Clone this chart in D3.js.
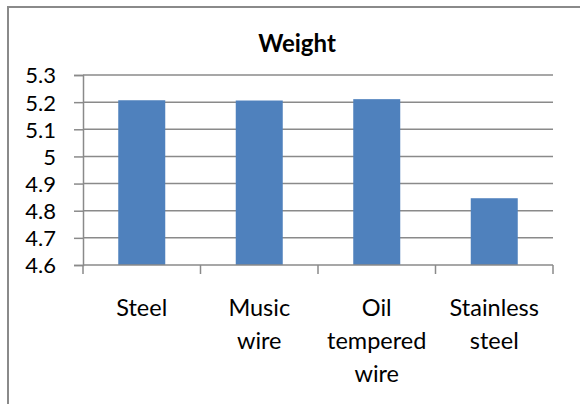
<!DOCTYPE html>
<html>
<head>
<meta charset="utf-8">
<script src="https://cdn.jsdelivr.net/npm/d3@7"></script>
<style>
  html, body { margin: 0; padding: 0; background: #fff; }
  svg { display: block; }
  text { font-family: Lato, "Open Sans", sans-serif; fill: #000; }
</style>
</head>
<body>
<svg id="chart" width="580" height="404"></svg>
<script>
const title = "Weight";
const categories = [["Steel"], ["Music", "wire"], ["Oil", "tempered", "wire"], ["Stainless", "steel"]];
const values = [5.207, 5.206, 5.211, 4.846];
const yTicks = [4.6, 4.7, 4.8, 4.9, 5.0, 5.1, 5.2, 5.3];

const svg = d3.select("#chart");
const pL = 83, pR = 553, pT = 75, pB = 265;

// frame (clipped at right/bottom in the reference)
svg.append("rect").attr("x", 8).attr("y", 7).attr("width", 600).attr("height", 500)
  .attr("fill", "#fff").attr("stroke", "#8a8a8a").attr("stroke-width", 2);

svg.append("text").attr("x", 297).attr("y", 52).attr("text-anchor", "middle")
  .style("font-weight", "bold").style("font-size", "24px").text(title);

const x = d3.scaleBand().domain(d3.range(categories.length)).range([pL, pR]).paddingInner(0.6).paddingOuter(0.3);
const xc = d3.scaleBand().domain(d3.range(categories.length)).range([pL, pR]);
const y = d3.scaleLinear().domain([4.6, 5.3]).range([pB, pT]);

// gridlines
svg.append("g").selectAll("line").data(yTicks.slice(1)).join("line")
  .attr("x1", pL).attr("x2", pR)
  .attr("y1", d => y(d)).attr("y2", d => y(d))
  .attr("stroke", "#8a8a8a").attr("stroke-width", 1.5);

// bars
svg.append("g").selectAll("rect").data(values).join("rect")
  .attr("x", (d, i) => x(i)).attr("width", x.bandwidth())
  .attr("y", d => y(d)).attr("height", d => y(4.6) - y(d))
  .attr("fill", "#4f81bd");

// y axis
const yAxis = d3.axisLeft(y).tickValues(yTicks).tickSize(9).tickPadding(18)
  .tickFormat(d => d3.format("")(+d.toFixed(1)));
const gy = svg.append("g").attr("transform", `translate(${pL},0)`).call(yAxis);
gy.select(".domain").attr("stroke", "#8a8a8a").attr("stroke-width", 1.5);
gy.selectAll(".tick line").attr("stroke", "#8a8a8a").attr("stroke-width", 1.5);
gy.selectAll(".tick text").style("font-size", "22px").style("font-family", "Lato, sans-serif").attr("fill", "#000").attr("dy", "0.36em");

// x axis
const gx = svg.append("g").attr("transform", `translate(0,${pB})`);
gx.append("line").attr("x1", pL).attr("x2", pR).attr("y1", 0).attr("y2", 0)
  .attr("stroke", "#8a8a8a").attr("stroke-width", 1.5);
const xt = d3.range(categories.length + 1).map(i => i < categories.length ? xc(i) : pR);
gx.selectAll("line.t").data(xt).join("line").attr("class", "t")
  .attr("x1", d => d).attr("x2", d => d).attr("y1", 0).attr("y2", 9)
  .attr("stroke", "#8a8a8a").attr("stroke-width", 1.5);

const labels = gx.selectAll("text.c").data(categories).join("text").attr("class", "c")
  .attr("text-anchor", "middle").style("font-size", "23.5px")
  .attr("transform", (d, i) => `translate(${xc(i) + xc.bandwidth() / 2},51)`);
labels.selectAll("tspan").data(d => d).join("tspan")
  .attr("x", 0).attr("y", (d, j) => j * 33).text(d => d);
</script>
</body>
</html>
